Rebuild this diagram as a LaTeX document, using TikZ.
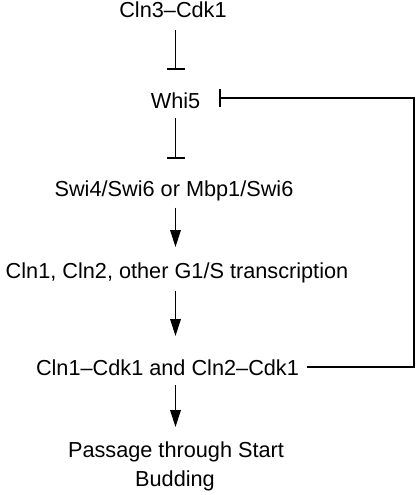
\documentclass[tikz,border=0pt]{standalone}
\usepackage{fontspec}
\setmainfont{Liberation Sans}
\usetikzlibrary{arrows.meta}
\begin{document}
\begin{tikzpicture}[x=1pt,y=-1pt,
  lbl/.style={inner sep=0pt,anchor=base,font=\fontsize{21.7}{29}\selectfont},
  conn/.style={line width=1.6pt},
  inh/.style={conn,-{Bar[width=18pt,line width=1.8pt]}},
  act/.style={conn,-{Triangle[length=17pt,width=10.5pt]}}]
\useasboundingbox (0,0) rectangle (418,495);
\coordinate (col) at (175.5,0);
\node[lbl] (cln3) at (173,18) {Cln3–Cdk1};
\node[lbl] (whi5) at (175.5,108) {Whi5};
\node[lbl] (swi) at (174,196) {Swi4/Swi6 or Mbp1/Swi6};
\node[lbl] (cln12) at (177,278) {Cln1, Cln2, other G1/S transcription};
\node[lbl] (cdk) at (167.5,375) {Cln1–Cdk1 and Cln2–Cdk1};
\node[lbl] (pass) at (176,457) {Passage through Start};
\node[lbl] (bud) at (175,486) {Budding};
\draw[inh,shorten <=12pt,shorten >=22pt] (cln3.south -| col) -- (whi5.north -| col);
\draw[inh,shorten <=10pt,shorten >=21pt] (whi5.south -| col) -- (swi.north -| col);
\draw[act,shorten <=7pt,shorten >=15pt] (swi.south -| col) -- (cln12.north -| col);
\draw[act,shorten <=8pt,shorten >=23pt] (cln12.south -| col) -- (cdk.north -| col);
\draw[act,shorten <=10pt,shorten >=14pt] (cdk.south -| col) -- (pass.north -| col);
\draw[inh,shorten <=8pt] (cdk.east) -- ++(115,0) |- ([xshift=19pt,yshift=2pt]whi5.east);
\end{tikzpicture}
\end{document}
